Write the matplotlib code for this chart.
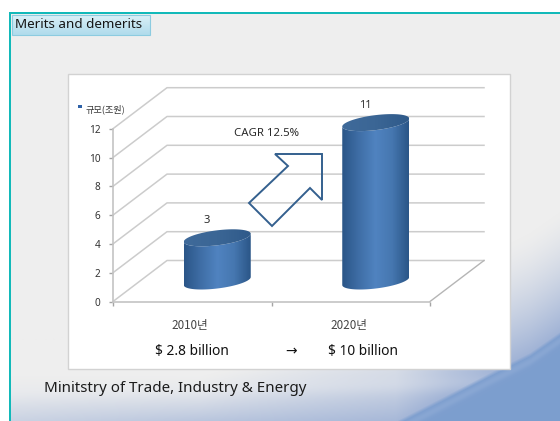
import numpy as np
import matplotlib
matplotlib.use('Agg')
import matplotlib.pyplot as plt
from matplotlib.patches import Polygon, Rectangle
from matplotlib.colors import LinearSegmentedColormap

plt.rcParams['font.family'] = ['Noto Sans', 'DejaVu Sans']
KR = ['Noto Sans CJK KR', 'DejaVu Sans']

years = ['2010년', '2020년']
market_size = [3, 11]
usd_labels = ['$ 2.8 billion', '$ 10 billion']
y_ticks = [0, 2, 4, 6, 8, 10, 12]
legend_label = '규모(조원)'
growth_label = 'CAGR 12.5%'

W, H = 560, 421
fig = plt.figure(figsize=(W / 100, H / 100), dpi=100)

# page layer in pixel coordinates
page = fig.add_axes([0, 0, 1, 1], zorder=1)
page.set_xlim(0, W)
page.set_ylim(H, 0)
page.axis('off')


def background():
    yy, xx = np.mgrid[0:H, 0:W]
    img = np.ones((H, W, 3)) * (238 / 255)
    # outline of the blue swoosh
    edge = np.interp(xx, [395, 440, 490, 530, 560], [421, 398, 372, 352, 331])
    d = edge - yy
    # periwinkle haze that builds up towards the swoosh
    width = 46 + 74 * np.clip((xx - 200) / 300, 0, 1)
    strength = 0.42 + 0.48 * np.clip(xx / 450, 0, 1)
    haze = (np.clip(1 - d / width, 0, 1) ** 1.4 * strength)[..., None]
    img = img * (1 - haze) + np.array([0.60, 0.68, 0.83]) * haze
    # pale streak on the left side
    streak = np.exp(-((yy - (392 - xx * 0.02)) / 9) ** 2)[..., None] * 0.18
    img = img * (1 - streak) + streak * 0.96
    # the swoosh itself
    t = np.clip(-d / 4, 0, 1)[..., None]
    img = img * (1 - t) + np.array([0.49, 0.62, 0.81]) * t
    # light band running along its edge
    glow = np.exp(-((d + 9) / 4) ** 2)[..., None] * 0.18
    img = img * (1 - glow) + np.array([0.75, 0.81, 0.91]) * glow
    return img


page.imshow(background(), extent=(0, W, H, 0), aspect='auto', zorder=0)

# frame and the heading tab
page.add_patch(Rectangle((0, 0), W, 11.5, color='white', lw=0, zorder=1))
page.add_patch(Rectangle((0, 0), 8.5, H, color='white', lw=0, zorder=1))
page.add_patch(Rectangle((8.5, 11.5), W, 2.6, color='#12b9b9', lw=0, zorder=2))
page.add_patch(Rectangle((8.5, 11.5), 2.6, H, color='#12b9b9', lw=0, zorder=2))
tab_cmap = LinearSegmentedColormap.from_list('tab', ['#daeff7', '#b0dcec'])
page.imshow(np.linspace(0, 1, 20)[:, None], cmap=tab_cmap, extent=(12, 150, 35, 15), aspect='auto', zorder=3)
page.add_patch(Rectangle((12, 15), 138, 20, fill=False, ec='#8ccbe0', lw=0.8, zorder=4))
page.text(15, 24, 'Merits and demerits', fontsize=9.7, color='#151515', va='center', zorder=5)

# white chart panel
page.add_patch(Rectangle((68, 74), 442, 295, fc='white', ec='#d2d2d2', lw=1, zorder=3))

page.text(44, 388, 'Minitstry of Trade, Industry & Energy', fontsize=10.9, color='#1c1c1c', va='center', zorder=5)
page.text(291, 351, '→', fontsize=10, color='#111111', ha='center', va='center', zorder=5, family=['DejaVu Sans'])

# chart axes sit on the front plane of the 3D box
x0, x1, y0, y1 = 113, 430, 301.5, 128.7
ax = fig.add_axes([x0 / W, (H - y0) / H, (x1 - x0) / W, (y0 - y1) / H], zorder=2)
ax.patch.set_alpha(0)
ax.set_xlim(0, 2)
ax.set_ylim(0, 12)
px_x = 2 / (x1 - x0)
px_y = 12 / (y0 - y1)
depth_x = 54 * px_x
depth_y = 41 * px_y

for s in ['top', 'right']:
    ax.spines[s].set_visible(False)
for s in ['left', 'bottom']:
    ax.spines[s].set_color('#c4c4c4')
    ax.spines[s].set_linewidth(1.2)
ax.set_yticks(y_ticks)
ax.set_xticks([0, 1, 2])
ax.set_xticklabels([])
ax.tick_params(axis='both', length=3, color='#a5a5a5', width=1)
ax.tick_params(axis='y', labelsize=7.2, labelcolor='#333333', pad=6)

# walls
for v in y_ticks:
    ax.plot([0, depth_x, 2 + depth_x], [v, v + depth_y, v + depth_y],
            color='#cccccc', lw=1.1, clip_on=False, zorder=1)
ax.plot([2, 2 + depth_x], [0, depth_y], color='#b5b5b5', lw=1, clip_on=False, zorder=1)

body_cmap = LinearSegmentedColormap.from_list('body', ['#2b5688', '#3f6ea6', '#5083c0', '#4677b0', '#2b5688'])
top_cmap = LinearSegmentedColormap.from_list('top', ['#3f6a9a', '#3b6695', '#2f5a8a'])


def cylinder(pos, value):
    # ellipse sizes given in pixels, converted to data units
    a = 33.5 * px_x
    cx = pos + 25 * px_x
    base = 20.5 * px_y
    t = np.linspace(0, np.pi, 80)
    ex = a * np.cos(t)
    tilt = 4 * px_y * np.cos(t)
    lower = -7.5 * px_y * np.sin(t) + tilt
    upper = 7.5 * px_y * np.sin(t) + tilt
    top = base + value
    body = np.vstack([
        np.column_stack([cx + ex[::-1], base + lower[::-1]]),
        np.column_stack([cx + ex, top + lower]),
    ])
    face = np.vstack([
        np.column_stack([cx + ex, top + upper]),
        np.column_stack([cx + ex[::-1], top + lower[::-1]]),
    ])
    grad = np.linspace(0, 1, 100)[None, :]
    extent = (cx - a, cx + a, -3, 16)
    # images stop at the axes box unless given a wider clip box
    for cmap, outline, z in [(body_cmap, body, 3), (top_cmap, face, 4)]:
        im = ax.imshow(grad, cmap=cmap, extent=extent, aspect='auto', zorder=z)
        im.set_clip_box(fig.bbox)
        im.set_clip_path(Polygon(outline, transform=ax.transData))
    ax.text(cx - 10.5 * px_x, top + upper.max() + 9 * px_y, str(value), fontsize=8,
            color='#2a2a2a', ha='center', va='center', zorder=5, clip_on=False)


for i, v in enumerate(market_size):
    cylinder(i + 0.5, v)
    ax.text(i + 0.5 - 2 * px_x, -24.5 * px_y, years[i], fontsize=8.4, color='#444444', ha='center',
            va='center', family=KR, fontweight='medium', clip_on=False)
    ax.text(i + 0.5 + (0 if i == 0 else 12.5) * px_x, -49.5 * px_y, usd_labels[i], fontsize=9.9,
            color='#111111', ha='center', va='center', clip_on=False)

ax.set_xlim(0, 2)
ax.set_ylim(0, 12)

# growth arrow and its caption
arrow_pts = [(275, 154), (322, 154), (322, 200), (310, 188), (272, 226), (249, 203), (288, 166)]
overlay = fig.add_axes([0, 0, 1, 1], zorder=3)
overlay.set_xlim(0, W)
overlay.set_ylim(H, 0)
overlay.axis('off')
overlay.add_patch(Polygon(arrow_pts, closed=True, fill=False, ec='#34608e', lw=1.4))
overlay.text(267, 133, growth_label, fontsize=8.2, color='#2a2a2a', ha='center', va='center')
overlay.add_patch(Rectangle((78, 104.5), 3.6, 3.6, color='#2f62a8', lw=0))
overlay.text(85, 109.5, legend_label, fontsize=6.6, color='#333333', va='center', family=KR)

fig.savefig('out.png', dpi=100)
